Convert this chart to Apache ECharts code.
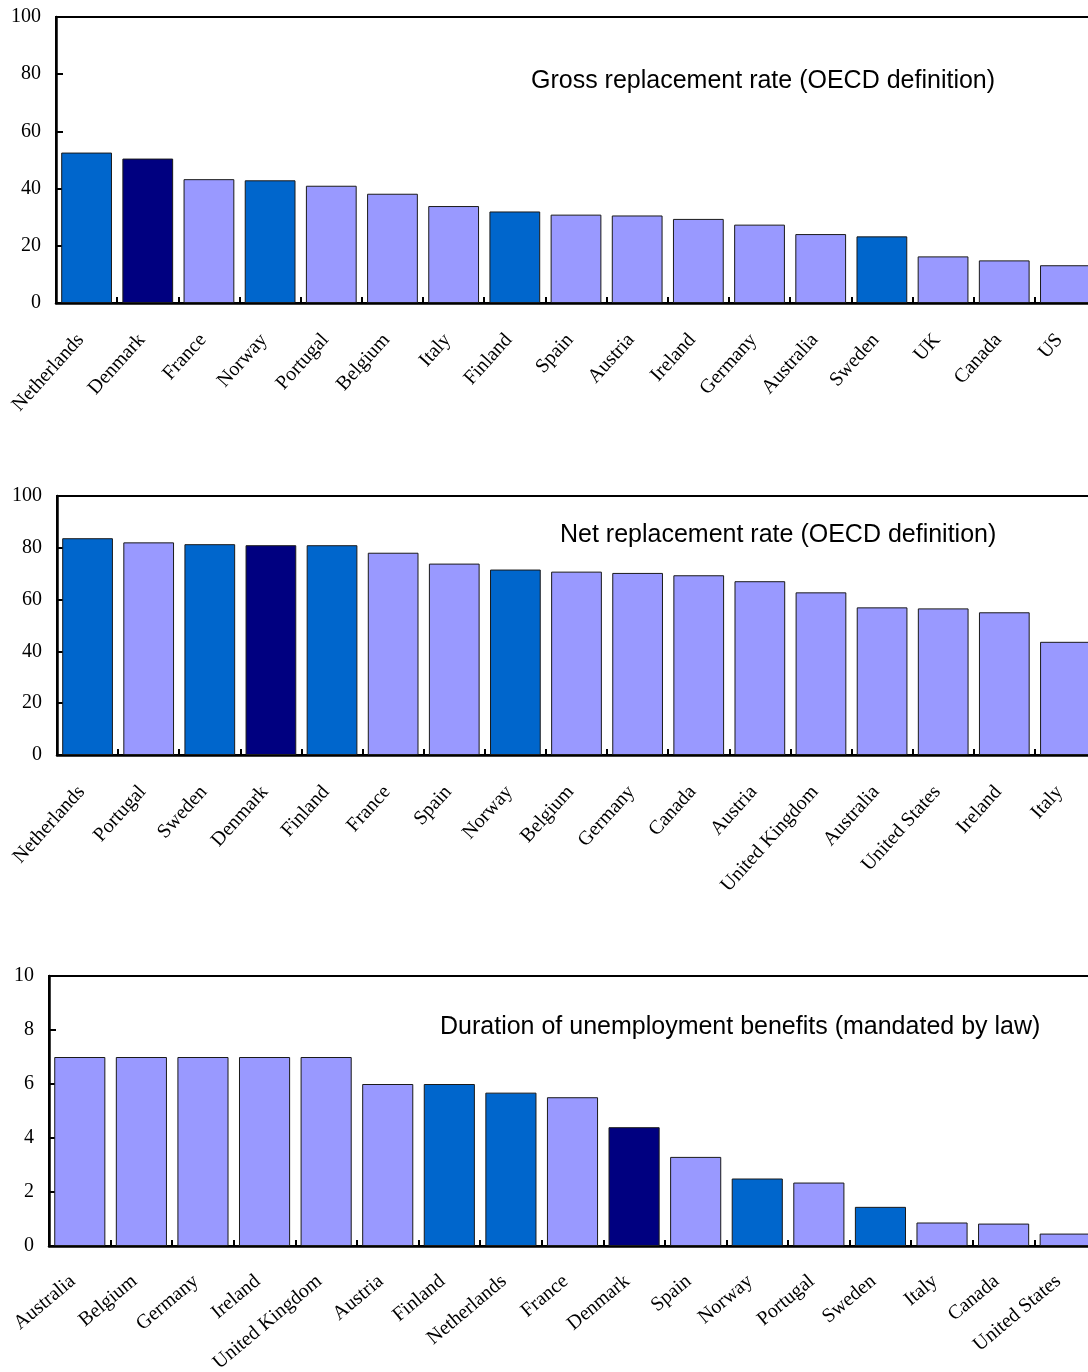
<!DOCTYPE html>
<html>
<head>
<meta charset="utf-8">
<title>Unemployment benefits: replacement rates and duration</title>
<script src="https://cdn.jsdelivr.net/npm/echarts@6/dist/echarts.min.js"></script>
<style>
  html, body { margin: 0; padding: 0; background: #fff; }
  #chart { width: 1088px; height: 1372px; }
</style>
</head>
<body>
<div id="chart"></div>
<script>
// Gross replacement rate (OECD definition), %
const grossCountries = ['Netherlands', 'Denmark', 'France', 'Norway', 'Portugal', 'Belgium', 'Italy', 'Finland',
  'Spain', 'Austria', 'Ireland', 'Germany', 'Australia', 'Sweden', 'UK', 'Canada', 'US'];
const grossValues = [52.6, 50.5, 43.3, 42.9, 41.0, 38.2, 33.9, 32.0, 30.9, 30.6, 29.4, 27.4, 24.1, 23.3, 16.3, 14.9, 13.2];

// Net replacement rate (OECD definition), %
const netCountries = ['Netherlands', 'Portugal', 'Sweden', 'Denmark', 'Finland', 'France', 'Spain', 'Norway',
  'Belgium', 'Germany', 'Canada', 'Austria', 'United Kingdom', 'Australia', 'United States', 'Ireland', 'Italy'];
const netValues = [83.7, 82.1, 81.4, 81.0, 81.0, 78.1, 73.9, 71.6, 70.8, 70.3, 69.4, 67.1, 62.8, 57.0, 56.6, 55.1, 43.7];

// Duration of unemployment benefits (mandated by law), years
const durationCountries = ['Australia', 'Belgium', 'Germany', 'Ireland', 'United Kingdom', 'Austria', 'Finland',
  'Netherlands', 'France', 'Denmark', 'Spain', 'Norway', 'Portugal', 'Sweden', 'Italy', 'Canada', 'United States'];
const durationValues = [7, 7, 7, 7, 7, 6, 6, 5.68, 5.51, 4.4, 3.3, 2.5, 2.35, 1.45, 0.87, 0.83, 0.46];

// Panel titles and y-axis ranges
const panelTitles = [
  'Gross replacement rate (OECD definition)',
  'Net replacement rate (OECD definition)',
  'Duration of unemployment benefits (mandated by law)'
];
const rateAxisMax = 100, rateAxisStep = 20;
const durationAxisMax = 10, durationAxisStep = 2;

// Country groups picked out in colour
const focusCountry = 'Denmark';
const comparisonGroup = ['Netherlands', 'Norway', 'Finland', 'Sweden'];

const COLOR_FOCUS = '#000080';
const COLOR_GROUP = '#0066CC';
const COLOR_OTHER = '#9999FF';

function barColor(name) {
  if (name === focusCountry) return COLOR_FOCUS;
  if (comparisonGroup.includes(name)) return COLOR_GROUP;
  return COLOR_OTHER;
}

function barData(names, values) {
  return values.map((v, i) => ({
    value: v,
    itemStyle: { color: barColor(names[i]) }
  }));
}

const serif = 'Liberation Serif, Times New Roman, serif';
const sans = 'Liberation Sans, Arial, sans-serif';

// plot rectangles; the right edge of each runs slightly past the page
const grids = [
  { left: 56, top: 17, width: 1040, height: 286 },
  { left: 57, top: 496, width: 1039, height: 259 },
  { left: 49, top: 976, width: 1047, height: 270 }
];

function makeXAxis(idx, names, rotate) {
  return {
    type: 'category',
    gridIndex: idx,
    data: names,
    boundaryGap: true,
    axisLine: { show: true, lineStyle: { color: '#000', width: 2.5 } },
    axisTick: { show: true, inside: true, length: 6, alignWithLabel: false, lineStyle: { color: '#000', width: 2 } },
    axisLabel: {
      interval: 0,
      rotate: rotate,
      margin: 27,
      padding: [0, 9, 0, 0],
      color: '#000',
      fontFamily: serif,
      fontSize: 20,
      hideOverlap: false
    },
    splitLine: { show: false }
  };
}

function makeYAxis(idx, max, step) {
  return {
    type: 'value',
    gridIndex: idx,
    min: 0,
    max: max,
    interval: step,
    axisLine: { show: true, lineStyle: { color: '#000', width: 2.5 } },
    axisTick: { show: true, inside: true, length: 7, lineStyle: { color: '#000', width: 2 } },
    axisLabel: { margin: 15, color: '#000', fontFamily: serif, fontSize: 20 },
    splitLine: { show: false }
  };
}

function makeSeries(idx, names, values) {
  return {
    type: 'bar',
    xAxisIndex: idx,
    yAxisIndex: idx,
    data: barData(names, values),
    barCategoryGap: '17%',
    itemStyle: { borderColor: '#1a1a1a', borderWidth: 1 },
    silent: true,
    animation: false
  };
}

const titlePositions = [
  { x: 531, y: 81 },
  { x: 560, y: 535 },
  { x: 440, y: 1027 }
];

const chart = echarts.init(document.getElementById('chart'), null, { renderer: 'canvas' });

chart.setOption({
  animation: false,
  backgroundColor: '#fff',
  grid: grids.map(g => Object.assign({
    show: true,
    borderColor: '#000',
    borderWidth: 2,
    backgroundColor: 'transparent',
    containLabel: false,
    outerBoundsMode: 'none'
  }, g)),
  xAxis: [
    makeXAxis(0, grossCountries, 48),
    makeXAxis(1, netCountries, 48),
    makeXAxis(2, durationCountries, 40)
  ],
  yAxis: [
    makeYAxis(0, rateAxisMax, rateAxisStep),
    makeYAxis(1, rateAxisMax, rateAxisStep),
    makeYAxis(2, durationAxisMax, durationAxisStep)
  ],
  series: [
    makeSeries(0, grossCountries, grossValues),
    makeSeries(1, netCountries, netValues),
    makeSeries(2, durationCountries, durationValues)
  ],
  graphic: panelTitles.map((t, i) => ({
    type: 'text',
    x: titlePositions[i].x,
    y: titlePositions[i].y,
    z: 100,
    style: {
      text: t,
      fill: '#000',
      fontFamily: sans,
      fontSize: 25,
      align: 'left',
      verticalAlign: 'middle'
    }
  }))
});
</script>
</body>
</html>
